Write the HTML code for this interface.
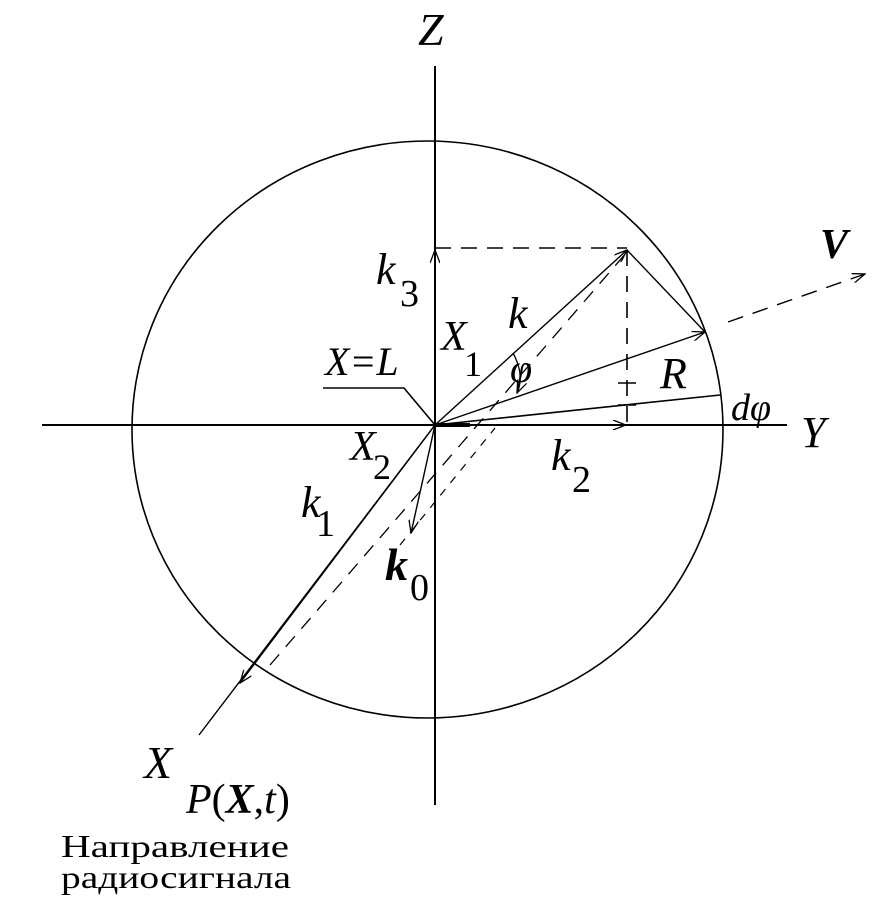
<!DOCTYPE html>
<html><head><meta charset="utf-8"><style>
html,body{margin:0;padding:0;background:#fff;}
svg{display:block;}
text{font-family:"Liberation Serif",serif;fill:#000;}
.i{font-style:italic;}
</style></head><body>
<svg width="894" height="908" viewBox="0 0 894 908" xmlns="http://www.w3.org/2000/svg">
<defs>
<marker id="a" markerWidth="14" markerHeight="10" refX="13" refY="5" orient="auto" markerUnits="userSpaceOnUse">
<path d="M0,0 L13,5 L0,10" fill="none" stroke="#000" stroke-width="1.3"/>
</marker>
</defs>
<g stroke="#000" fill="none">
<line x1="435" y1="66" x2="435" y2="805" stroke-width="2"/>
<line x1="42" y1="425" x2="787" y2="425" stroke-width="2"/>
<ellipse cx="427.5" cy="429.5" rx="295.5" ry="288.5" stroke-width="1.6"/>
<line x1="435" y1="425" x2="199" y2="735" stroke-width="1.4"/>
<line x1="435" y1="425" x2="240" y2="683" stroke-width="1.4" marker-end="url(#a)"/>
<line x1="435" y1="425" x2="627" y2="250" stroke-width="1.4" marker-end="url(#a)"/>
<line x1="435" y1="248" x2="627" y2="248" stroke-width="1.6" stroke-dasharray="16,10"/>
<line x1="627" y1="250" x2="627" y2="425" stroke-width="1.6" stroke-dasharray="16,10"/>
<line x1="435" y1="262" x2="435" y2="250" stroke-width="2" marker-end="url(#a)"/>
<line x1="600" y1="425" x2="626" y2="425" stroke-width="1.5" marker-end="url(#a)"/>
<line x1="270" y1="665" x2="627" y2="252" stroke-width="1.3" stroke-dasharray="14,10"/>
<line x1="400" y1="545" x2="495" y2="428" stroke-width="1.2" stroke-dasharray="8,8"/>
<line x1="627" y1="250" x2="705" y2="332" stroke-width="1.4"/>
<line x1="435" y1="425" x2="705" y2="332" stroke-width="1.4" marker-end="url(#a)"/>
<line x1="435" y1="425" x2="720" y2="395" stroke-width="1.6"/>
<line x1="618" y1="405" x2="636" y2="405" stroke-width="1.4"/>
<line x1="618" y1="383" x2="636" y2="383" stroke-width="1.4"/>
<path d="M513,353 Q525,375 517,393" stroke-width="1.3" marker-end="url(#a)"/>
<line x1="728" y1="322" x2="865" y2="274" stroke-width="1.4" stroke-dasharray="16,10" marker-end="url(#a)"/>
<line x1="435" y1="425" x2="411" y2="533" stroke-width="1.4" marker-end="url(#a)"/>
<polyline points="323,388 404,388 435,425" stroke-width="1.6"/>
<line x1="435" y1="425" x2="470" y2="425" stroke-width="4"/>
</g>
<g>
<text x="418" y="45" class="i" font-size="46">Z</text>
<text x="820" y="258" class="i" font-size="42" font-weight="bold">V</text>
<text x="376" y="284" class="i" font-size="44">k</text>
<text x="400" y="306" font-size="38">3</text>
<text x="508" y="328" class="i" font-size="44">k</text>
<text x="441" y="350" class="i" font-size="42">X</text>
<text x="464" y="376" font-size="36">1</text>
<text x="325" y="375" class="i" font-size="40">X=L</text>
<text x="510" y="382" class="i" font-size="40">φ</text>
<text x="660" y="388" class="i" font-size="44">R</text>
<text x="731" y="420" class="i" font-size="38">dφ</text>
<text x="801" y="447" class="i" font-size="44">Y</text>
<text x="350" y="460" class="i" font-size="42">X</text>
<text x="373" y="479" font-size="36">2</text>
<text x="551" y="470" class="i" font-size="44">k</text>
<text x="572" y="492" font-size="38">2</text>
<text x="301" y="517" class="i" font-size="44">k</text>
<text x="316" y="536" font-size="38">1</text>
<text x="385" y="580" class="i" font-size="46" font-weight="bold">k</text>
<text x="410" y="600" font-size="38">0</text>
<text x="144" y="778" class="i" font-size="46">X</text>
<text x="186" y="813" font-size="42"><tspan class="i">P</tspan>(<tspan class="i" font-weight="bold">X</tspan>,<tspan class="i">t</tspan>)</text>
<text x="61" y="857" font-size="32" textLength="228" lengthAdjust="spacingAndGlyphs">Направление</text>
<text x="61" y="888" font-size="32" textLength="230" lengthAdjust="spacingAndGlyphs">радиосигнала</text>
</g>
</svg>
</body></html>
